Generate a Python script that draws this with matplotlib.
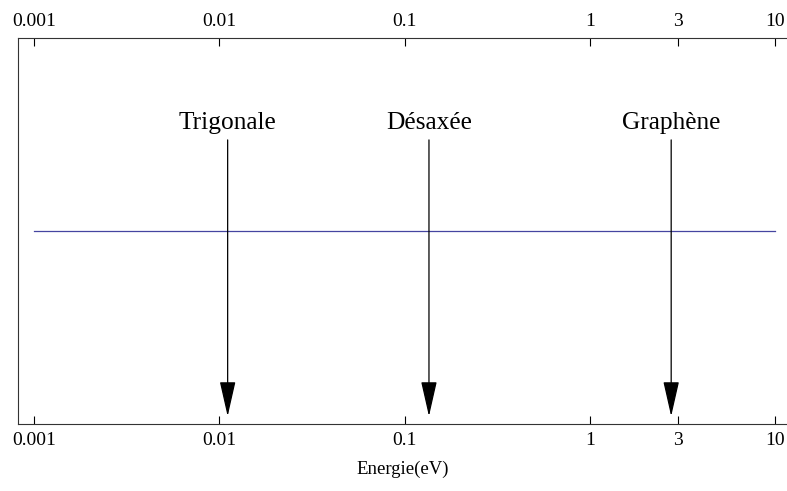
import numpy as np
import matplotlib.pyplot as plt

plt.rcParams['font.family'] = ['Liberation Serif', 'DejaVu Serif']

# energy scales (eV) marked on the axis
labels = ['Trigonale', 'Désaxée', 'Graphène']
energies = [0.0111, 0.1355, 2.75]

tick_values = [0.001, 0.01, 0.1, 1, 3, 10]
tick_labels = ['0.001', '0.01', '0.1', '1', '3', '10']

fig = plt.figure(figsize=(7.87, 4.91), dpi=100)
ax = fig.add_axes([0.0229, 0.1365, 0.9771, 0.7861])

ax.set_xscale('log')
ax.set_xlim(0.00082, 11.6)
ax.set_ylim(0, 1)

# flat reference line across the energy range
ax.plot([tick_values[0], tick_values[-1]], [0.5, 0.5], color='#4545a0', lw=0.9)

for name, e in zip(labels, energies):
    ax.annotate('', xy=(e, 0.02), xytext=(e, 0.736),
                arrowprops=dict(arrowstyle='-|>,head_length=2.2,head_width=0.5',
                                color='black', lw=0.9, shrinkA=0, shrinkB=0,
                                mutation_scale=10))
    ax.text(e, 0.78, name, ha='center', va='center', fontsize=18.3)

ax.set_xticks(tick_values)
ax.set_xticklabels(tick_labels)
ax.minorticks_off()
ax.set_yticks([])
ax.tick_params(axis='x', direction='in', length=6, width=0.8, top=True,
               labeltop=True, labelsize=14, pad=6)
ax.spines['right'].set_visible(False)
for s in ['left', 'top', 'bottom']:
    ax.spines[s].set_linewidth(0.8)
    ax.spines[s].set_color('#333333')

ax.set_xlabel('Energie(eV)', fontsize=13.5, labelpad=8)

fig.savefig('out.png', dpi=100)
